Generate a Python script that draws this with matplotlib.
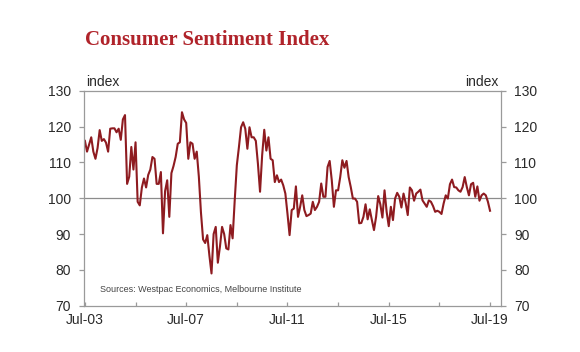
import numpy as np
import matplotlib
matplotlib.use('Agg')
import matplotlib.pyplot as plt
from matplotlib.ticker import FixedLocator, NullFormatter

# Monthly index, Jul-03 .. Jul-19 (one row per Jul..Jun year)
values = [
    116, 113, 115, 117, 113, 111, 114, 119, 116, 116.5, 115.5, 113,
    119.4, 119.5, 119.5, 118.4, 119.4, 116.3, 122, 123.2, 104, 106, 114.3, 108,
    115.6, 99, 98, 103, 105.5, 103, 106.5, 108, 111.5, 111, 104, 104,
    107.3, 90.2, 102, 105, 94.8, 107, 109, 111.5, 115.2, 115.6, 124, 122,
    121, 111, 115.6, 115.2, 111, 113, 106, 96, 88.5, 87.5, 89.7, 84,
    79, 90, 92, 82, 86.5, 92, 90, 86, 85.7, 92.5, 88.8, 99.4,
    109.2, 114.3, 119.8, 121.2, 119.4, 113.8, 119.8, 117, 117, 116, 109.6, 101.8,
    112, 119.1, 113.3, 117, 111, 110.6, 104.5, 106.4, 104.5, 105.2, 103.6, 101.3,
    95.7, 89.7, 96.7, 97.1, 103.3, 94.8, 97.6, 100.8, 96.7, 95, 95.3, 95.7,
    99, 96.7, 97.6, 99, 104.1, 100.4, 100.4, 108.7, 110.4, 105, 97.6, 102.2,
    102.2, 105.9, 110.6, 108.5, 110.4, 105.9, 103.1, 99.9, 99.9, 99, 93, 93.1,
    94.8, 98.3, 94.1, 96.9, 93.9, 91.1, 94.8, 100.6, 98.3, 94.6, 102.2, 96.2,
    92.2, 97.6, 93.9, 99.9, 101.5, 100.4, 97.4, 101.3, 98.7, 95.3, 103, 102.2,
    99.3, 101.3, 101.8, 102.4, 99.4, 98.5, 97.6, 99.4, 99, 97.8, 96.2, 96.5,
    96.2, 95.6, 98.5, 100.8, 99.9, 103.9, 105.2, 103.1, 103, 102.2, 101.8, 103.1,
    105.9, 103.1, 100.8, 103.9, 104.3, 100.4, 103.3, 99.3, 100.8, 101.3, 100.8, 99,
    96.5,
]
tick_labels = ['Jul-03', 'Jul-07', 'Jul-11', 'Jul-15', 'Jul-19']
yticks = [70, 80, 90, 100, 110, 120, 130]

plt.rcParams['font.family'] = ['Liberation Sans', 'DejaVu Sans']

fig = plt.figure(figsize=(5.8, 3.52), dpi=100)
ax = fig.add_axes([0.1453, 0.1315, 0.8638 - 0.1453, 0.7423 - 0.1315])

months = np.arange(len(values))
ax.plot(months, values, color='#8e1b20', lw=1.5, solid_joinstyle='round')
ax.axhline(100, color='#8c8c8c', lw=0.9, zorder=0)

ax.set_xlim(-0.3, 197.2)
ax.set_ylim(70, 130)

grey = '#9a9a9a'
for s in ax.spines.values():
    s.set_color(grey)
    s.set_linewidth(0.9)

# y axis: labels on both sides, outward ticks
ax.set_yticks(yticks)
ax.tick_params(axis='y', which='both', direction='out', length=3.5, width=0.9,
               color=grey, labelsize=10, labelcolor='#2a2a2a',
               left=True, right=True, labelleft=True, labelright=True, pad=6)

# x axis: labels every 4 years, ticks every 2 years
ax.xaxis.set_major_locator(FixedLocator(np.arange(0, 193, 48)))
ax.xaxis.set_minor_locator(FixedLocator(np.arange(24, 193, 48)))
ax.xaxis.set_minor_formatter(NullFormatter())
ax.set_xticklabels(tick_labels)
ax.tick_params(axis='x', which='both', direction='in', length=3, width=0.9,
               color=grey, labelsize=10, labelcolor='#2a2a2a', pad=5)

ax.text(0.004, 1.01, 'index', transform=ax.transAxes, fontsize=10,
        color='#2a2a2a', ha='left', va='bottom')
ax.text(0.993, 1.01, 'index', transform=ax.transAxes, fontsize=10,
        color='#2a2a2a', ha='right', va='bottom')
ax.text(0.037, 0.075, 'Sources: Westpac Economics, Melbourne Institute',
        transform=ax.transAxes, fontsize=6.5, color='#444444', ha='left',
        va='center')

fig.text(85 / 580, 1 - 40 / 352, 'Consumer Sentiment Index',
         family='Liberation Serif', fontweight='bold', fontsize=15,
         color='#b0232a', ha='left', va='center')

plt.savefig('out.png', dpi=100)
plt.close(fig)
